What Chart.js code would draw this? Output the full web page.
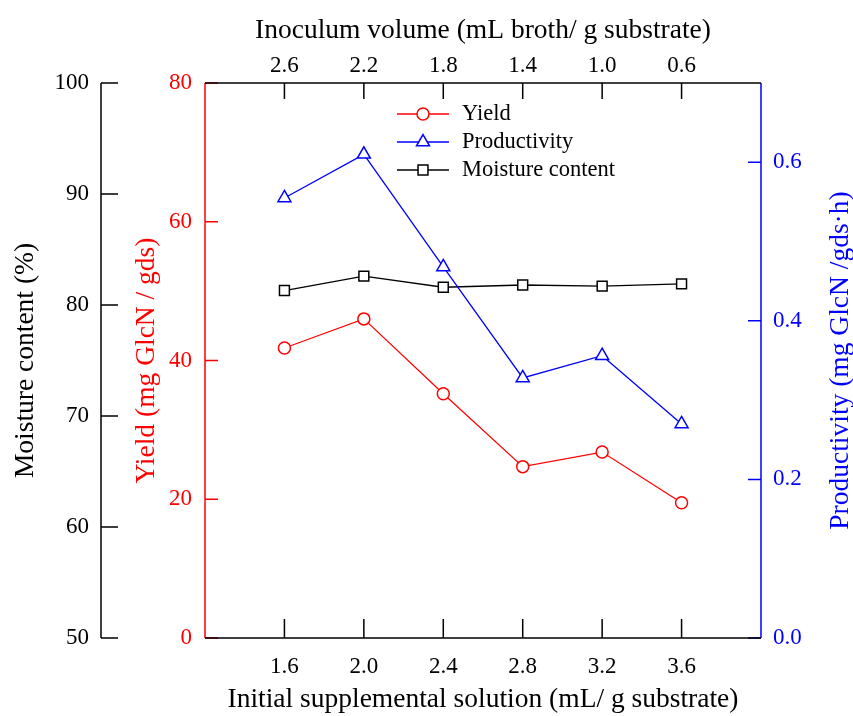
<!DOCTYPE html>
<html>
<head>
<meta charset="utf-8">
<script src="https://cdn.jsdelivr.net/npm/chart.js@4.4.1/dist/chart.umd.min.js"></script>
<style>
  body { margin: 0; background: #fff; }
</style>
</head>
<body>
<canvas id="chart" width="853" height="716"></canvas>
<script>
// Values
const solution = [1.6, 2.0, 2.4, 2.8, 3.2, 3.6]
const inoculumTicks = [2.6, 2.2, 1.8, 1.4, 1.0, 0.6]
const yieldValues = [41.8, 46.0, 35.2, 24.7, 26.8, 19.5]
const productivityValues = [0.555, 0.610, 0.468, 0.328, 0.356, 0.270]
const moistureValues = [81.3, 82.6, 81.6, 81.8, 81.7, 81.9]
const moistureTicks = [50, 60, 70, 80, 90, 100]
const yieldTicks = [0, 20, 40, 60, 80]
const productivityTicks = [0.0, 0.2, 0.4, 0.6]

const RED = '#ff0000'
const BLUE = '#0000ff'
const BLACK = '#000000'
const FONT = "'Liberation Serif', 'Times New Roman', serif"

Chart.defaults.font.family = FONT
Chart.defaults.font.size = 23
Chart.defaults.color = BLACK

// helpers for the scales
const setTicks = (values) => (scale) => { scale.ticks = values.map(v => ({ value: v })) }
const setSize = (size) => (scale) => {
  if (scale.isHorizontal()) scale.height = size
  else scale.width = size
}
const toPoints = (values) => solution.map((x, i) => ({ x: x, y: values[i] }))

// axis lines + short inward tick marks
const inwardTicks = {
  id: 'inwardTicks',
  afterDraw(chart) {
    const c = chart.ctx
    const marks = { yM: 17, yY: 13, yP: -13, x2: 16, x: -19 }
    const colors = { yM: BLACK, yY: RED, yP: BLUE, x2: BLACK, x: BLACK }
    Object.keys(marks).forEach(id => {
      const scale = chart.scales[id]
      const len = marks[id]
      c.save()
      c.strokeStyle = colors[id]
      c.lineWidth = 1.5
      c.beginPath()
      if (scale.isHorizontal()) {
        const y0 = id === 'x2' ? scale.bottom : scale.top
        c.moveTo(chart.chartArea.left, y0)
        c.lineTo(chart.chartArea.right, y0)
        scale.ticks.forEach(t => {
          const p = scale.getPixelForValue(t.value)
          c.moveTo(p, y0)
          c.lineTo(p, y0 + len)
        })
      } else {
        const x0 = id === 'yP' ? scale.left : scale.right
        c.moveTo(x0, scale.top)
        c.lineTo(x0, scale.bottom)
        scale.ticks.forEach(t => {
          const p = scale.getPixelForValue(t.value)
          c.moveTo(x0, p)
          c.lineTo(x0 + len, p)
        })
      }
      c.stroke()
      c.restore()
    })
  }
}

// legend inside the plot and the right axis title (reads bottom to top)
const extras = {
  id: 'extras',
  afterDraw(chart) {
    const c = chart.ctx
    const area = chart.chartArea
    c.save()
    c.font = '22.5px ' + FONT
    c.textBaseline = 'middle'
    chart.data.datasets.forEach((ds, i) => {
      const y = area.top + 31 + i * 28
      const x = area.left + 192
      c.strokeStyle = ds.borderColor
      c.lineWidth = 1.3
      c.beginPath()
      c.moveTo(x, y)
      c.lineTo(x + 52, y)
      c.stroke()
      c.fillStyle = '#fff'
      c.lineWidth = ds.pointBorderWidth
      Chart.helpers.drawPoint(c, { pointStyle: ds.pointStyle, radius: ds.pointRadius, rotation: 0, borderWidth: ds.pointBorderWidth }, x + 26, y)
      c.fillStyle = BLACK
      c.textAlign = 'left'
      c.fillText(ds.label, x + 65, y)
    })
    c.translate(841, (area.top + area.bottom) / 2)
    c.rotate(-Math.PI / 2)
    c.font = '27.5px ' + FONT
    c.fillStyle = BLUE
    c.textAlign = 'center'
    c.fillText('Productivity (mg GlcN /gds\u00b7h)', 0, 0)
    c.restore()
  }
}

const noLine = { display: false }

new Chart(document.getElementById('chart'), {
  type: 'line',
  data: {
    datasets: [
      {
        label: 'Yield',
        data: toPoints(yieldValues),
        xAxisID: 'x', yAxisID: 'yY',
        borderColor: RED, borderWidth: 1.3,
        pointStyle: 'circle', pointRadius: 6,
        pointBackgroundColor: '#fff', pointBorderColor: RED, pointBorderWidth: 1.5
      },
      {
        label: 'Productivity',
        data: toPoints(productivityValues),
        xAxisID: 'x', yAxisID: 'yP',
        borderColor: BLUE, borderWidth: 1.3,
        pointStyle: 'triangle', pointRadius: 7.5,
        pointBackgroundColor: '#fff', pointBorderColor: BLUE, pointBorderWidth: 1.5
      },
      {
        label: 'Moisture content',
        data: toPoints(moistureValues),
        xAxisID: 'x', yAxisID: 'yM',
        borderColor: BLACK, borderWidth: 1.3,
        pointStyle: 'rect', pointRadius: 7,
        pointBackgroundColor: '#fff', pointBorderColor: BLACK, pointBorderWidth: 1.5
      }
    ]
  },
  options: {
    responsive: false,
    animation: false,
    layout: { padding: 0 },
    plugins: { legend: { display: false }, tooltip: { enabled: false } },
    scales: {
      x: {
        type: 'linear', position: 'bottom', min: 1.2, max: 4.0,
        grid: { display: false, drawTicks: false },
        border: noLine,
        ticks: { padding: 15, autoSkip: false, maxRotation: 0, callback: v => v.toFixed(1) },
        title: { display: true, text: 'Initial supplemental solution (mL/ g substrate)', font: { size: 27.5 }, padding: { top: 0, bottom: 0 } },
        afterBuildTicks: setTicks(solution),
        afterFit: setSize(78)
      },
      x2: {
        type: 'linear', position: 'top', min: 0.2, max: 3.0, reverse: true,
        grid: { display: false, drawTicks: false },
        border: noLine,
        ticks: { padding: 3, autoSkip: false, maxRotation: 0, callback: v => v.toFixed(1) },
        title: { display: true, text: 'Inoculum volume (mL broth/ g substrate)', font: { size: 27.5 }, padding: { top: 14, bottom: 0 } },
        afterBuildTicks: setTicks(inoculumTicks),
        afterFit: setSize(83)
      },
      yY: {
        type: 'linear', position: 'left', weight: 0, min: 0, max: 80,
        grid: { display: false, drawTicks: false },
        border: noLine,
        ticks: { color: RED, padding: 13, autoSkip: false },
        title: { display: true, text: 'Yield (mg GlcN / gds)', color: RED, font: { size: 27.5 }, padding: { top: 29, bottom: 0 } },
        afterBuildTicks: setTicks(yieldTicks),
        afterFit: setSize(104)
      },
      yM: {
        type: 'linear', position: 'left', weight: 1, min: 50, max: 100,
        grid: { display: false, drawTicks: false },
        border: noLine,
        ticks: { padding: 12, autoSkip: false },
        title: { display: true, text: 'Moisture content (%)', font: { size: 27.5 }, padding: { top: 9, bottom: 0 } },
        afterBuildTicks: setTicks(moistureTicks),
        afterFit: setSize(101)
      },
      yP: {
        type: 'linear', position: 'right', min: 0, max: 0.7,
        grid: { display: false, drawTicks: false },
        border: noLine,
        ticks: { color: BLUE, padding: 12, autoSkip: false, callback: v => v.toFixed(1) },
        afterBuildTicks: setTicks(productivityTicks),
        afterFit: setSize(92)
      }
    }
  },
  plugins: [inwardTicks, extras]
})
</script>
</body>
</html>
